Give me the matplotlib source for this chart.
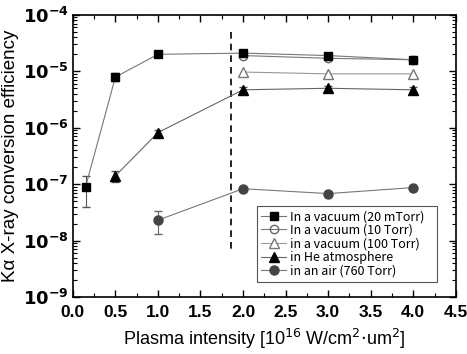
import matplotlib
matplotlib.use("Agg")
import matplotlib.pyplot as plt
import numpy as np
from matplotlib.ticker import FixedLocator, LogLocator, NullFormatter

x_vac20 = [0.15, 0.5, 1.0, 2.0, 3.0, 4.0]
y_vac20 = [9e-8, 7.9e-6, 2.0e-5, 2.1e-5, 1.9e-5, 1.6e-5]
err_vac20_lo = [5e-8, 1.3e-6, 1e-6, 1.5e-6, 1.2e-6, 1.2e-6]
err_vac20_hi = [5e-8, 1.5e-6, 1e-6, 1.5e-6, 1.2e-6, 1.2e-6]

x_vac10 = [2.0, 3.0, 4.0]
y_vac10 = [1.9e-5, 1.7e-5, 1.6e-5]

x_vac100 = [2.0, 3.0, 4.0]
y_vac100 = [9.7e-6, 9.0e-6, 9.0e-6]

x_he = [0.5, 1.0, 2.0, 3.0, 4.0]
y_he = [1.4e-7, 8.2e-7, 4.7e-6, 5.0e-6, 4.7e-6]
err_he = [3e-8, 1e-7, 6e-7, 5e-7, 5e-7]

x_air = [1.0, 2.0, 3.0, 4.0]
y_air = [2.3e-8, 8.3e-8, 6.8e-8, 8.7e-8]
err_air_lo = [1.0e-8, 5e-9, 4e-9, 5e-9]
err_air_hi = [1.0e-8, 5e-9, 4e-9, 5e-9]

labels = ["In a vacuum (20 mTorr)", "In a vacuum (10 Torr)", "in a vacuum (100 Torr)",
          "in He atmosphere", "in an air (760 Torr)"]

fig = plt.figure(figsize=(4.67, 3.54), dpi=100)
ax = fig.add_axes([0.156, 0.161, 0.82, 0.797])

h0 = ax.errorbar(x_vac20, y_vac20, yerr=[err_vac20_lo, err_vac20_hi], color='#777777', lw=0.8,
                 marker='s', ms=5.5, mfc='black', mec='black', capsize=3, ecolor='#555555',
                 elinewidth=0.8, zorder=3)
h1, = ax.plot(x_vac10, y_vac10, color='#777777', lw=0.8, marker='o', ms=6, mfc='none',
              mec='#666666', zorder=3)
h2, = ax.plot(x_vac100, y_vac100, color='#999999', lw=0.8, marker='^', ms=7, mfc='white',
              mec='#777777', zorder=3)
h3 = ax.errorbar(x_he, y_he, yerr=err_he, color='#666666', lw=0.8, marker='^', ms=7,
                 mfc='black', mec='black', capsize=3, ecolor='#555555', elinewidth=0.8,
                 zorder=3)
h4 = ax.errorbar(x_air, y_air, yerr=[err_air_lo, err_air_hi], color='#777777', lw=0.8,
                 marker='o', ms=6.5, mfc='#444444', mec='#444444', capsize=3, ecolor='#666666',
                 elinewidth=0.8, zorder=3)

ax.plot([1.86, 1.86], [5e-5, 6e-9], ls=(0, (4, 3)), color='black', lw=1.2)

ax.set_yscale('log')
ax.set_xlim(0, 4.5)
ax.set_ylim(1e-9, 1e-4)
ax.set_xticks(np.arange(0, 4.51, 0.5))
ax.xaxis.set_minor_locator(FixedLocator(np.arange(0.25, 4.5, 0.5)))
ax.yaxis.set_minor_locator(LogLocator(base=10, subs=np.arange(2, 10), numticks=20))
ax.yaxis.set_minor_formatter(NullFormatter())
ax.tick_params(which='both', direction='in', top=True, right=True)
ax.tick_params(which='major', length=5, width=1)
ax.tick_params(which='minor', length=3, width=0.8)
for s in ax.spines.values():
    s.set_linewidth(1.2)

tickfont = dict(family='Liberation Sans', weight='bold', size=12.5)
ax.set_xticklabels([f"{v:.1f}" for v in np.arange(0, 4.51, 0.5)], fontdict=tickfont)
ax.set_yticks([1e-9, 1e-8, 1e-7, 1e-6, 1e-5, 1e-4])
ax.set_yticklabels([r"$\mathbf{10^{%d}}$" % e for e in range(-9, -3)], fontsize=13)
ax.tick_params(axis='x', pad=6)
ax.tick_params(axis='y', pad=3)

ax.set_xlabel(r"Plasma intensity [10$^{16}$ W/cm$^{2}$$\cdot$um$^{2}$]",
              family='Liberation Sans', size=13, labelpad=5)
ax.set_ylabel("K\u03b1 X-ray conversion efficiency", family='Liberation Sans', size=13.5, labelpad=3)

leg = ax.legend([h0[0], h1, h2, h3[0], h4[0]], labels, loc='lower left',
                bbox_to_anchor=(0.48, 0.053, 0.47, 0.29), mode='expand',
                prop=dict(family=['Noto Sans CJK JP', 'DejaVu Sans'], size=9),
                fancybox=False, edgecolor='#555555', framealpha=1,
                handlelength=2.0, handletextpad=0.3, labelspacing=0.05,
                borderpad=0.35, borderaxespad=0)
leg.get_frame().set_linewidth(0.8)

fig.savefig("out.png", dpi=100)
